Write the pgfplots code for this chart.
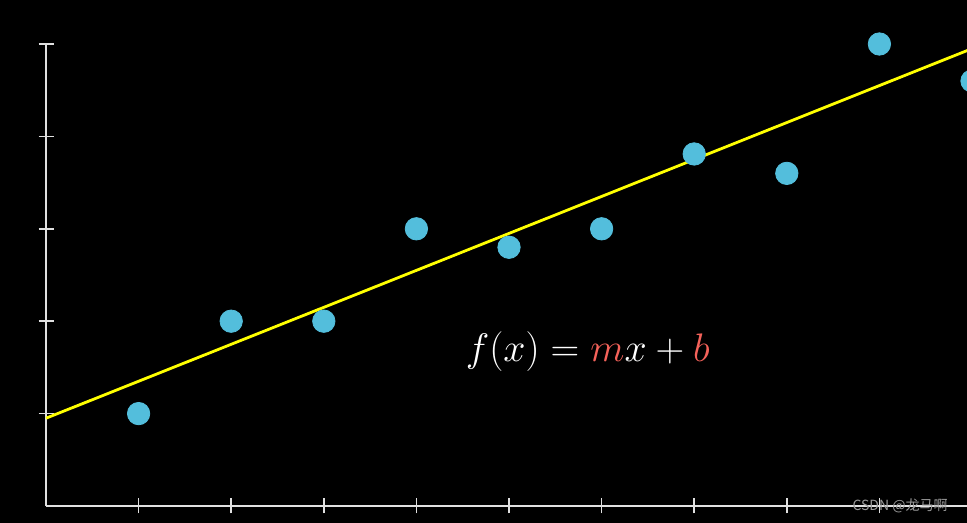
\documentclass[border=0pt]{standalone}
\usepackage{pgfplots}
\pgfplotsset{compat=1.18}
\usepackage{fontspec}
\newfontfamily\cjk{Noto Sans CJK SC}
\definecolor{dotblue}{HTML}{53BEDC}
\definecolor{mred}{HTML}{F4625A}
\definecolor{lineyellow}{HTML}{FFFF00}
\begin{document}
\begin{tikzpicture}[x=0.5pt,y=0.5pt]
\fill[black] (0,0) rectangle (967,523);
\begin{axis}[
  at={(23pt,8.5pt)}, anchor=south west,
  scale only axis,
  width=460.5pt, height=231pt,
  xmin=0, xmax=9.946, ymin=0, ymax=5,
  axis lines=left,
  axis line style={white!88!black, line width=1pt, -},
  xtick={1,2,3,4,5,6,7,8,9},
  ytick={1,2,3,4,5},
  xticklabels={}, yticklabels={},
  tick align=center,
  major tick length=7.5pt,
  tick style={white!88!black, line width=0.8pt},
  clip=false,
]
\addplot[lineyellow, line width=1.4pt] coordinates {(0,0.95) (10.05,4.97)};
\addplot[only marks, mark=*, mark size=5.6pt, mark options={fill=dotblue, draw=dotblue}]
  coordinates {(1,1) (2,2) (3,2) (4,3) (5,2.8) (6,3) (7,3.81) (8,3.6) (9,5) (10,4.6)};
\node[text=white, font=\fontsize{19.5pt}{24pt}\selectfont] at (axis cs:5.85,1.67)
  {\scalebox{0.96}{$f(x) = {\color{mred}m}x + {\color{mred}b}$}};
\end{axis}
\node[anchor=center, text=white!60!black, font=\cjk\fontsize{7pt}{8pt}\selectfont] at (900,17) {CSDN @龙马啊};
\pgfresetboundingbox
\useasboundingbox (0,0) rectangle (967,523);
\end{tikzpicture}
\end{document}
